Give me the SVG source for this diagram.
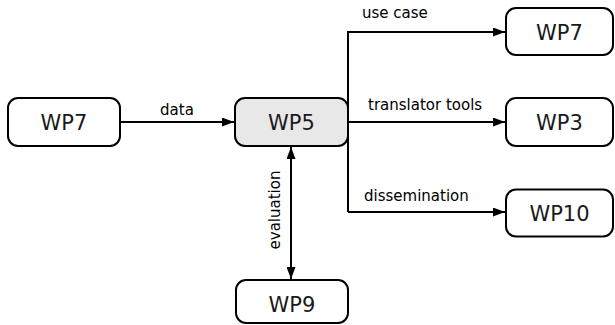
<svg xmlns="http://www.w3.org/2000/svg" width="615" height="325" viewBox="0 0 615 325">
<style>
.box{fill:#ffffff;stroke:#000;stroke-width:2}
.hl{fill:#e8e8e8}
.nt{font-family:"DejaVu Sans",sans-serif;font-size:21px;text-anchor:middle;fill:#1a1a1a}
.lb{font-family:"DejaVu Sans",sans-serif;font-size:15px;fill:#000}
.ln{fill:none;stroke:#000;stroke-width:2}
</style>
<defs>
<marker id="ah" viewBox="0 0 12 9" refX="12" refY="4.5" markerWidth="12" markerHeight="9" markerUnits="userSpaceOnUse" orient="auto-start-reverse">
<path d="M0,0 L12,4.5 L0,9 z" fill="#000"/>
</marker>
</defs>
<rect width="615" height="325" fill="#fff"/>
<g id="connectors">
<line class="ln" x1="120" y1="122" x2="234" y2="122" marker-end="url(#ah)"/>
<text class="lb" x="177" y="115" text-anchor="middle">data</text>
<polyline class="ln" points="348,212 348,32 505,32" marker-end="url(#ah)"/>
<line class="ln" x1="348" y1="122" x2="505" y2="122" marker-end="url(#ah)"/>
<line class="ln" x1="348" y1="212" x2="505" y2="212" marker-end="url(#ah)"/>
<text class="lb" x="362" y="18">use case</text>
<text class="lb" x="368" y="110">translator tools</text>
<text class="lb" x="364" y="201">dissemination</text>
<line class="ln" x1="291" y1="147" x2="291" y2="279" marker-start="url(#ah)" marker-end="url(#ah)"/>
<text class="lb" transform="translate(280,210) rotate(-90)" text-anchor="middle">evaluation</text>
</g>
<g id="n-wp7a"><rect class="box" x="8" y="98" width="112" height="48" rx="10"/><text class="nt" x="64" y="130">WP7</text></g>
<g id="n-wp5"><rect class="box hl" x="235" y="98" width="113" height="48" rx="10"/><text class="nt" x="291.5" y="130">WP5</text></g>
<g id="n-wp7b"><rect class="box" x="506" y="8" width="107" height="47" rx="10"/><text class="nt" x="559.5" y="39.5">WP7</text></g>
<g id="n-wp3"><rect class="box" x="506" y="98" width="107" height="48" rx="10"/><text class="nt" x="559.5" y="130">WP3</text></g>
<g id="n-wp10"><rect class="box" x="506" y="189.5" width="107" height="47" rx="10"/><text class="nt" x="559.5" y="221">WP10</text></g>
<g id="n-wp9"><rect class="box" x="236" y="280" width="112" height="43" rx="10"/><text class="nt" x="292" y="312">WP9</text></g>
</svg>
